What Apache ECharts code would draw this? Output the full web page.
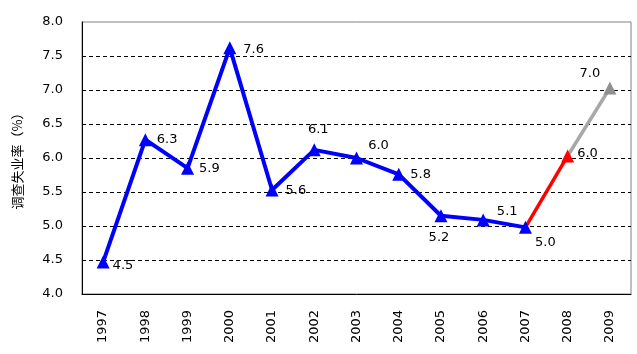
<!DOCTYPE html>
<html>
<head>
<meta charset="utf-8">
<script src="https://cdn.jsdelivr.net/npm/echarts@6/dist/echarts.min.js"></script>
<style>
  html, body { margin: 0; padding: 0; background: #fff; }
  #chart { width: 637px; height: 354px; }
</style>
</head>
<body>
<div id="chart"></div>
<script>
const years = ['1997', '1998', '1999', '2000', '2001', '2002', '2003', '2004', '2005', '2006', '2007', '2008', '2009']
// actual rate, 1997-2007
const actual = [4.47, 6.27, 5.85, 7.62, 5.53, 6.12, 6.0, 5.76, 5.15, 5.09, 4.98]
// estimate for 2008, forecast for 2009
const estimate2008 = 6.03
const forecast2009 = 7.03
const labelText = ['4.5', '6.3', '5.9', '7.6', '5.6', '6.1', '6.0', '5.8', '5.2', '5.1', '5.0', '6.0', '7.0']
const labelPos = ['right', 'right', 'right', 'right', 'right', 'top', 'top', 'right', 'bottom', 'top', 'bottom', 'right', 'top']
const labelOffset = [[-2, 4], [0, 0], [0, 0], [2, 2], [2, 1], [4, -2], [22, 6], [0, 0], [-2, 4], [24, 10], [20, -3], [-2, -2], [-20, 4]]

const font = 'Tahoma, "DejaVu Sans", sans-serif'

function withLabels(data) {
  return data.map((v, i) => v == null ? null : {
    value: v,
    label: {
      show: true,
      position: labelPos[i],
      offset: labelOffset[i],
      formatter: labelText[i],
      color: '#000',
      fontSize: 13,
      fontFamily: font,
    },
  })
}

const blue = withLabels(actual.concat([null, null]))
const red = years.map((y, i) => i === 10 ? actual[10] : i === 11 ? estimate2008 : null)
const grey = years.map((y, i) => i === 11 ? estimate2008 : i === 12 ? forecast2009 : null)
const redData = red.map((v, i) => i === 11 ? withLabels(red)[11] : v == null ? null : { value: v, symbolSize: 0 })
const greyData = grey.map((v, i) => i === 12 ? withLabels(grey)[12] : v == null ? null : { value: v, symbolSize: 0 })

const chart = echarts.init(document.getElementById('chart'))
chart.setOption({
  animation: false,
  grid: { left: 82, right: 6, top: 22, bottom: 60, show: true, borderColor: '#808080', borderWidth: 1 },
  xAxis: {
    type: 'category',
    data: years,
    boundaryGap: true,
    axisLine: { lineStyle: { color: '#000', width: 1 } },
    axisTick: { inside: true, length: 5, lineStyle: { color: '#000' } },
    axisLabel: { rotate: 90, color: '#000', fontSize: 13, fontFamily: font, margin: 16 },
  },
  yAxis: {
    type: 'value',
    min: 4,
    max: 8,
    interval: 0.5,
    name: '调查失业率（%）',
    nameLocation: 'middle',
    nameGap: 58,
    nameTextStyle: { fontFamily: '"Noto Sans CJK SC", sans-serif', fontSize: 13, color: '#000' },
    axisLine: { show: true, lineStyle: { color: '#000', width: 1 } },
    axisTick: { show: false },
    axisLabel: { color: '#000', fontSize: 13, fontFamily: font, margin: 19, formatter: (v) => v.toFixed(1) },
    splitLine: { showMaxLine: false, showMinLine: false, lineStyle: { color: '#000', type: [4, 3], width: 1 } },
  },
  series: [
    {
      type: 'line',
      data: greyData,
      symbol: 'triangle',
      symbolSize: 13,
      lineStyle: { color: '#a8a8a8', width: 3.5 },
      itemStyle: { color: '#909090' },
      z: 2,
    },
    {
      type: 'line',
      data: redData,
      symbol: 'triangle',
      symbolSize: 13,
      lineStyle: { color: '#ff0000', width: 3.5 },
      itemStyle: { color: '#ff0000' },
      z: 3,
    },
    {
      type: 'line',
      data: blue,
      symbol: 'triangle',
      symbolSize: 13,
      lineStyle: { color: '#0000ff', width: 4 },
      itemStyle: { color: '#0000ff' },
      z: 4,
    },
  ],
})
</script>
</body>
</html>
